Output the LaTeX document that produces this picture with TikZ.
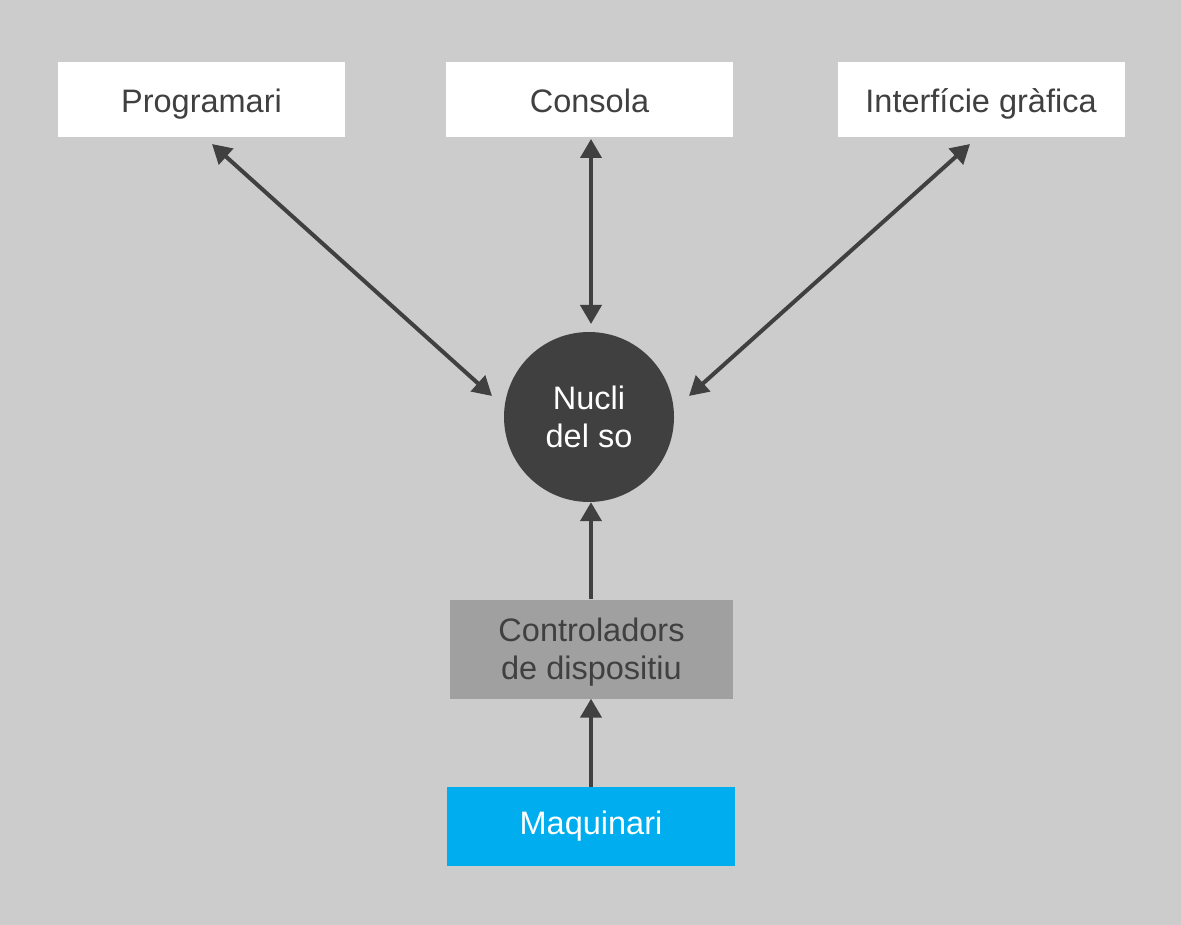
\documentclass[tikz,border=0pt]{standalone}
\usepackage{fontspec}
\setmainfont{Liberation Sans}
\usetikzlibrary{arrows.meta}
\definecolor{bg}{HTML}{CCCCCC}
\definecolor{ink}{HTML}{404040}
\definecolor{midgray}{HTML}{A0A0A0}
\definecolor{sky}{HTML}{00AEEF}
\begin{document}
\begin{tikzpicture}[x=1pt,y=-1pt,
  lbl/.style={font=\fontsize{32.5}{37.5}\selectfont, align=center, inner sep=0pt},
  oneline/.style={text height=30pt, text depth=3pt},
  whitebox/.style={lbl, oneline, fill=white, text=ink, minimum width=287pt, minimum height=75pt},
  conn/.style={draw=ink, line width=4pt, -{Triangle[length=19pt,width=21pt]}},
  dconn/.style={conn, {Triangle[length=19pt,width=21pt]}-{Triangle[length=19pt,width=21pt]}}]
\fill[bg] (0,0) rectangle (1181,925);
\useasboundingbox (0,0) rectangle (1181,925);
\node[whitebox] (prog) at (201.5,99.5) {Programari};
\node[whitebox] (cons) at (589.5,99.5) {Consola};
\node[whitebox] (intf) at (981,99.5) {Interfície gràfica};
\node[lbl, circle, fill=ink, text=white, minimum size=170pt] (nucli) at (589,417) {Nucli\\del so};
\node[lbl, fill=midgray, text=ink, minimum width=283pt, minimum height=99pt] (ctrl) at (591.5,649) {\raisebox{-3pt}[\height][\depth]{\parbox{280pt}{\centering Controladors\\de dispositiu}}};
\node[lbl, fill=sky, text=white, minimum width=288pt, minimum height=79pt] (maq) at (591,826.5) {Maquinari};
\coordinate (p1) at (212,144);
\coordinate (p2) at (492,396);
\coordinate (c1) at (591,139);
\coordinate (c2) at (591,324);
\coordinate (i1) at (970,144);
\coordinate (i2) at (689,396);
\draw[dconn] (p2) -- (p1);
\draw[dconn] (c2) -- (c1);
\draw[dconn] (i2) -- (i1);
\draw[conn] (ctrl.north -| 591,0) -- (nucli.south -| 591,0);
\draw[conn] (maq.north -| 591,0) -- (ctrl.south -| 591,0);
\end{tikzpicture}
\end{document}
